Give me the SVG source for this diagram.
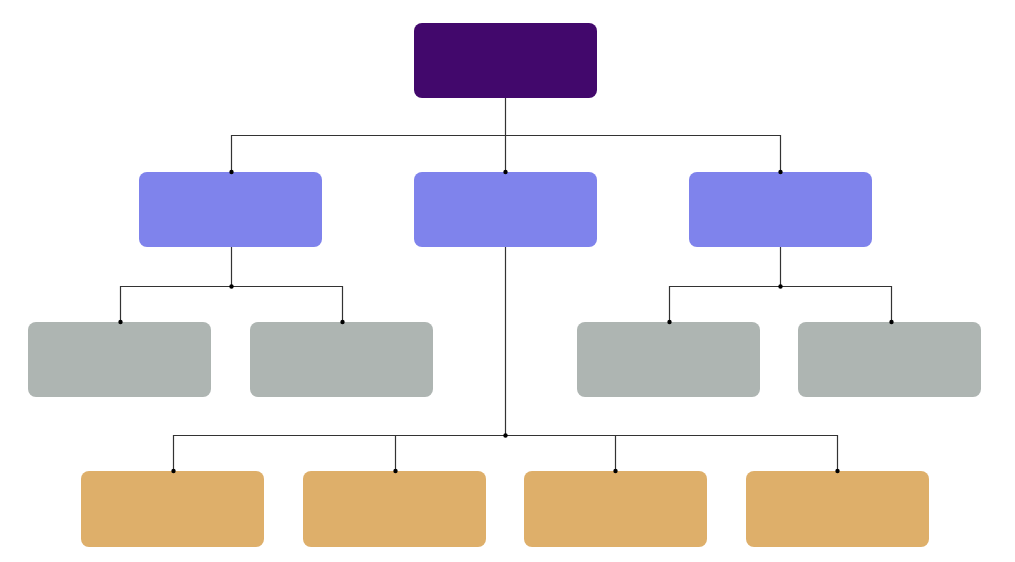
<svg xmlns="http://www.w3.org/2000/svg" width="1015" height="562" viewBox="0 0 1015 562">
<style>
.n{rx:8px;ry:8px}
.root{fill:#42086c}
.l2{fill:#7f83ec}
.l3{fill:#aeb5b2}
.l4{fill:#deaf6a}
.c{fill:none;stroke:#333;stroke-width:1.2}
.d{fill:#000}
</style>
<rect width="1015" height="562" fill="#fff"/>
<g id="root"><rect class="n root" x="414" y="23" width="183" height="75"/></g>
<g id="b1"><rect class="n l2" x="139" y="172" width="183" height="75"/></g>
<g id="b2"><rect class="n l2" x="414" y="172" width="183" height="75"/></g>
<g id="b3"><rect class="n l2" x="689" y="172" width="183" height="75"/></g>
<g id="g1"><rect class="n l3" x="28" y="322" width="183" height="75"/></g>
<g id="g2"><rect class="n l3" x="250" y="322" width="183" height="75"/></g>
<g id="g3"><rect class="n l3" x="577" y="322" width="183" height="75"/></g>
<g id="g4"><rect class="n l3" x="798" y="322" width="183" height="75"/></g>
<g id="o1"><rect class="n l4" x="81" y="471" width="183" height="76"/></g>
<g id="o2"><rect class="n l4" x="303" y="471" width="183" height="76"/></g>
<g id="o3"><rect class="n l4" x="524" y="471" width="183" height="76"/></g>
<g id="o4"><rect class="n l4" x="746" y="471" width="183" height="76"/></g>
<g id="connectors">
<path class="c" d="M505.5 98V172 M231.5 172V135.5H780.5V172"/>
<path class="c" d="M231.5 247V286.5 M120.5 322V286.5H342.5V322"/>
<path class="c" d="M780.5 247V286.5 M669.5 322V286.5H891.5V322"/>
<path class="c" d="M505.5 247V435.5 M173.5 471V435.5H837.5V471 M395.5 435.5V471 M615.5 435.5V471"/>
<circle class="d" cx="231.5" cy="172" r="2.2"/>
<circle class="d" cx="505.5" cy="172" r="2.2"/>
<circle class="d" cx="780.5" cy="172" r="2.2"/>
<circle class="d" cx="231.5" cy="286.5" r="2.2"/>
<circle class="d" cx="780.5" cy="286.5" r="2.2"/>
<circle class="d" cx="505.5" cy="435.5" r="2.2"/>
<circle class="d" cx="120.5" cy="322" r="2.2"/>
<circle class="d" cx="342.5" cy="322" r="2.2"/>
<circle class="d" cx="669.5" cy="322" r="2.2"/>
<circle class="d" cx="891.5" cy="322" r="2.2"/>
<circle class="d" cx="173.5" cy="471" r="2.2"/>
<circle class="d" cx="395.5" cy="471" r="2.2"/>
<circle class="d" cx="615.5" cy="471" r="2.2"/>
<circle class="d" cx="837.5" cy="471" r="2.2"/>
</g>
</svg>
